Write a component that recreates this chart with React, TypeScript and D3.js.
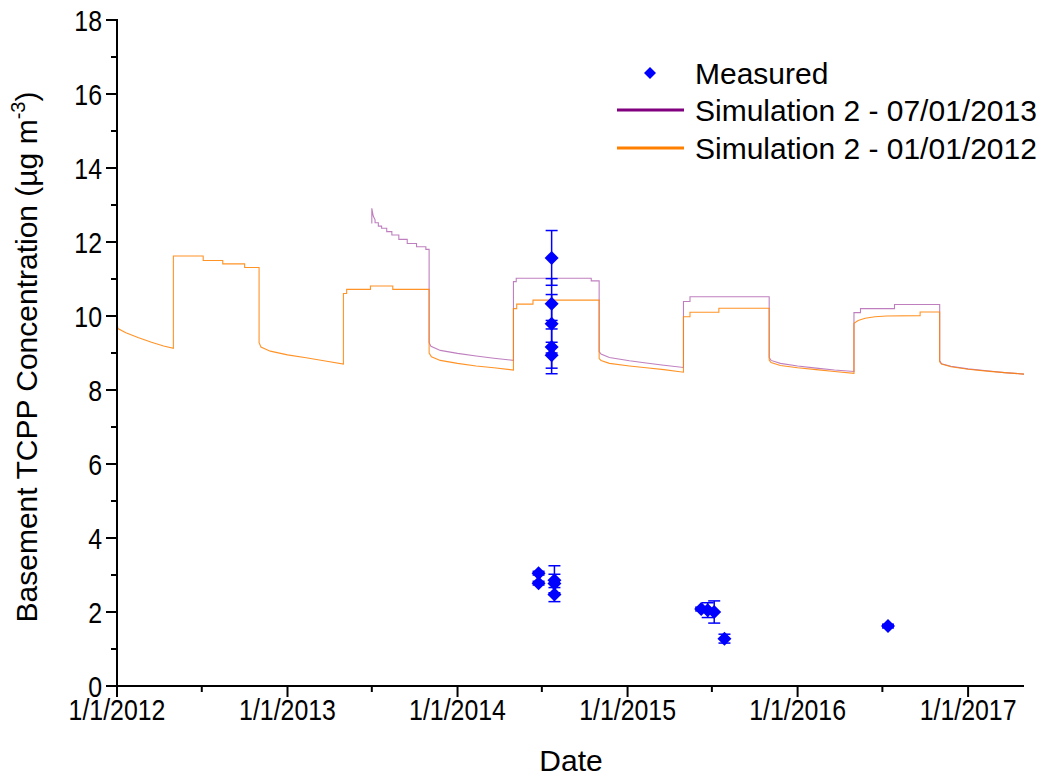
import React from "react";
import * as d3 from "d3";

// Simulated basement TCPP concentration, simulation started 01/01/2012 (µg m-3)
const sim2012: [string, number][] = [
  ["2012-01-01", 9.80], ["2012-01-03", 9.66], ["2012-01-20", 9.55], ["2012-02-15", 9.42],
  ["2012-03-15", 9.29], ["2012-04-10", 9.19], ["2012-05-01", 9.13],
  ["2012-05-01", 11.62], ["2012-07-04", 11.62], ["2012-07-04", 11.50], ["2012-08-15", 11.50],
  ["2012-08-15", 11.41], ["2012-10-01", 11.41], ["2012-10-01", 11.31], ["2012-11-01", 11.31],
  ["2012-11-01", 9.28], ["2012-11-05", 9.16], ["2012-11-25", 9.05], ["2013-01-01", 8.95],
  ["2013-02-10", 8.87], ["2013-03-20", 8.79], ["2013-05-01", 8.70],
  ["2013-05-01", 10.61], ["2013-05-08", 10.61], ["2013-05-08", 10.72], ["2013-06-28", 10.72],
  ["2013-06-28", 10.81], ["2013-08-15", 10.81], ["2013-08-15", 10.72], ["2013-11-01", 10.72],
  ["2013-11-01", 9.00], ["2013-11-06", 8.90], ["2013-11-25", 8.80], ["2014-01-01", 8.72],
  ["2014-02-10", 8.65], ["2014-03-20", 8.60], ["2014-05-01", 8.54],
  ["2014-05-01", 10.20], ["2014-05-08", 10.20], ["2014-05-08", 10.32], ["2014-06-12", 10.32],
  ["2014-06-12", 10.43], ["2014-11-01", 10.43],
  ["2014-11-01", 8.85], ["2014-11-05", 8.80], ["2014-11-23", 8.72], ["2015-01-05", 8.65],
  ["2015-02-10", 8.60], ["2015-03-20", 8.55], ["2015-05-01", 8.48],
  ["2015-05-01", 9.98], ["2015-05-15", 9.98], ["2015-05-15", 10.10], ["2015-07-16", 10.10],
  ["2015-07-16", 10.21], ["2015-11-01", 10.21],
  ["2015-11-01", 8.81], ["2015-11-05", 8.74], ["2015-11-25", 8.66], ["2016-01-01", 8.60],
  ["2016-02-10", 8.55], ["2016-03-20", 8.50], ["2016-05-01", 8.45],
  ["2016-05-01", 9.80], ["2016-05-10", 9.88], ["2016-05-25", 9.94], ["2016-06-15", 9.98],
  ["2016-07-10", 10.00], ["2016-09-20", 10.01], ["2016-09-20", 10.11], ["2016-11-01", 10.11],
  ["2016-11-01", 8.76], ["2016-11-05", 8.70], ["2016-11-25", 8.63], ["2017-01-01", 8.56],
  ["2017-02-10", 8.51], ["2017-03-20", 8.47], ["2017-05-01", 8.43],
];

// Simulated basement TCPP concentration, simulation started 07/01/2013 (µg m-3)
const sim2013: [string, number][] = [
  ["2013-07-01", 12.50], ["2013-07-01", 12.91], ["2013-07-04", 12.70], ["2013-07-08", 12.60],
  ["2013-07-08", 12.52], ["2013-07-15", 12.52], ["2013-07-15", 12.43], ["2013-07-22", 12.43],
  ["2013-07-22", 12.37], ["2013-08-02", 12.37], ["2013-08-02", 12.28], ["2013-08-13", 12.28],
  ["2013-08-13", 12.19], ["2013-08-28", 12.19], ["2013-08-28", 12.07], ["2013-09-15", 12.07],
  ["2013-09-15", 11.96], ["2013-10-05", 11.96], ["2013-10-05", 11.87], ["2013-10-25", 11.87],
  ["2013-10-25", 11.80], ["2013-11-01", 11.80],
  ["2013-11-01", 9.28], ["2013-11-05", 9.18], ["2013-11-25", 9.07], ["2014-01-01", 8.99],
  ["2014-02-10", 8.92], ["2014-03-20", 8.86], ["2014-05-01", 8.80],
  ["2014-05-01", 10.93], ["2014-05-07", 10.93], ["2014-05-07", 11.02], ["2014-10-15", 11.02],
  ["2014-10-15", 10.95], ["2014-11-01", 10.95],
  ["2014-11-01", 9.04], ["2014-11-05", 8.97], ["2014-11-23", 8.88], ["2015-01-05", 8.79],
  ["2015-02-10", 8.73], ["2015-03-20", 8.67], ["2015-05-01", 8.61],
  ["2015-05-01", 10.39], ["2015-05-15", 10.39], ["2015-05-15", 10.52], ["2015-11-01", 10.52],
  ["2015-11-01", 8.88], ["2015-11-05", 8.80], ["2015-11-25", 8.72], ["2016-01-01", 8.65],
  ["2016-02-10", 8.59], ["2016-03-20", 8.54], ["2016-05-01", 8.50],
  ["2016-05-01", 10.09], ["2016-05-15", 10.09], ["2016-05-15", 10.20], ["2016-07-27", 10.20],
  ["2016-07-27", 10.31], ["2016-11-01", 10.31],
  ["2016-11-01", 8.79], ["2016-11-05", 8.71], ["2016-11-25", 8.64], ["2017-01-01", 8.57],
  ["2017-02-10", 8.52], ["2017-03-20", 8.47], ["2017-05-01", 8.43],
];

// Measured samples: date, concentration and standard deviation
const measuredDates = [
  "2014-06-24", "2014-06-24",
  "2014-07-22", "2014-07-22", "2014-07-22", "2014-07-22", "2014-07-22",
  "2014-07-28", "2014-07-28", "2014-07-28",
  "2015-06-08", "2015-06-22", "2015-07-06", "2015-07-28",
  "2016-07-13",
];
const measuredValues = [
  3.05, 2.78,
  11.57, 10.33, 9.79, 9.16, 8.94,
  2.86, 2.77, 2.47,
  2.08, 2.05, 2.0, 1.28,
  1.62,
];
const measuredErrors = [
  0.05, 0.05,
  0.74, 0.68, 0.79, 0.72, 0.35,
  0.39, 0.25, 0.19,
  0.05, 0.2, 0.3, 0.12,
  0.05,
];

const xTickDates = ["2012-01-01", "2013-01-01", "2014-01-01", "2015-01-01", "2016-01-01", "2017-01-01"];
const xTickLabels = ["1/1/2012", "1/1/2013", "1/1/2014", "1/1/2015", "1/1/2016", "1/1/2017"];
const xMinorDates = ["2012-07-01", "2013-07-01", "2014-07-01", "2015-07-01", "2016-07-01"];
const yTicks = [0, 2, 4, 6, 8, 10, 12, 14, 16, 18];
const yMinor = [1, 3, 5, 7, 9, 11, 13, 15, 17];

const legendLabels = ["Measured", "Simulation 2 - 07/01/2013", "Simulation 2 - 01/01/2012"];

const W = 1048;
const H = 776;
const FONT = "'Liberation Sans', Arial, sans-serif";
const BLUE = "#0000ff";
const PURPLE = "#800080";
const ORANGE = "#ff8000";
// tick labels are set in a condensed face
const NARROW_SCALE = 0.83;

const parse = d3.utcParse("%Y-%m-%d");

export default function App() {
  const x = d3
    .scaleUtc()
    .domain([parse("2012-01-01")!, parse("2017-05-01")!])
    .range([117, 1024]);
  const y = d3.scaleLinear().domain([0, 18]).range([686, 20]);

  const line = d3
    .line<[string, number]>()
    .x((d) => x(parse(d[0])!))
    .y((d) => y(d[1]));

  const diamond = (cx: number, cy: number, r: number) =>
    `M${cx},${cy - r}L${cx + r},${cy}L${cx},${cy + r}L${cx - r},${cy}Z`;

  return (
    <div style={{ position: "absolute", left: 0, top: 0 }}>
      <svg width={W} height={H} style={{ display: "block", background: "#fff" }}>
        {/* simulated series */}
        <path d={line(sim2013) ?? ""} fill="none" stroke={PURPLE} strokeOpacity={0.5} strokeWidth={1.1} />
        <path d={line(sim2012) ?? ""} fill="none" stroke={ORANGE} strokeOpacity={0.85} strokeWidth={1.1} />

        {/* measured samples with error bars */}
        <g>
          {measuredValues.map((v, i) => {
            const cx = x(parse(measuredDates[i])!);
            const e = measuredErrors[i];
            const y1 = y(v + e);
            const y2 = y(v - e);
            return (
              <g key={`e${i}`} stroke={BLUE} strokeWidth={1.5}>
                <line x1={cx} x2={cx} y1={y1} y2={y2} />
                <line x1={cx - 6} x2={cx + 6} y1={y1} y2={y1} />
                <line x1={cx - 6} x2={cx + 6} y1={y2} y2={y2} />
              </g>
            );
          })}
          {measuredValues.map((v, i) => (
            <path key={`m${i}`} d={diamond(x(parse(measuredDates[i])!), y(v), 7)} fill={BLUE} />
          ))}
        </g>

        {/* axes */}
        <g stroke="#000" strokeWidth={2}>
          <line x1={117} x2={117} y1={19} y2={687} />
          <line x1={116} x2={1024} y1={686} y2={686} />
          {yTicks.map((t) => (
            <line key={`yt${t}`} x1={106} x2={117} y1={y(t)} y2={y(t)} />
          ))}
          {yMinor.map((t) => (
            <line key={`ym${t}`} x1={111} x2={117} y1={y(t)} y2={y(t)} />
          ))}
          {xTickDates.map((d) => (
            <line key={`xt${d}`} x1={x(parse(d)!)} x2={x(parse(d)!)} y1={686} y2={697} />
          ))}
          {xMinorDates.map((d) => (
            <line key={`xm${d}`} x1={x(parse(d)!)} x2={x(parse(d)!)} y1={686} y2={692} />
          ))}
        </g>

        <g fontFamily={FONT} fontSize={30} fill="#000">
          {yTicks.map((t) => (
            <text
              key={`yl${t}`}
              transform={`translate(102,${y(t)}) scale(${NARROW_SCALE},1)`}
              dy="0.35em"
              textAnchor="end"
            >
              {t}
            </text>
          ))}
          {xTickDates.map((d, i) => (
            <text
              key={`xl${d}`}
              transform={`translate(${x(parse(d)!)},720) scale(${NARROW_SCALE},1)`}
              textAnchor="middle"
            >
              {xTickLabels[i]}
            </text>
          ))}
        </g>

        {/* axis titles */}
        <text x={571} y={771} textAnchor="middle" fontFamily={FONT} fontSize={30}>
          Date
        </text>
        <text
          transform="translate(37,357) rotate(-90)"
          textAnchor="middle"
          fontFamily={FONT}
          fontSize={30}
        >
          Basement TCPP Concentration (µg m
          <tspan fontSize={20} dy={-12}>-3</tspan>
          <tspan dy={12}>)</tspan>
        </text>

        {/* legend */}
        <g fontFamily={FONT} fontSize={30}>
          <path d={diamond(650, 73, 6)} fill={BLUE} />
          <text x={695} y={84}>{legendLabels[0]}</text>
          <line x1={617} x2={684} y1={110} y2={110} stroke={PURPLE} strokeWidth={3} />
          <text x={695} y={121}>{legendLabels[1]}</text>
          <line x1={617} x2={684} y1={148} y2={148} stroke={ORANGE} strokeWidth={3} />
          <text x={695} y={159}>{legendLabels[2]}</text>
        </g>
      </svg>
    </div>
  );
}
